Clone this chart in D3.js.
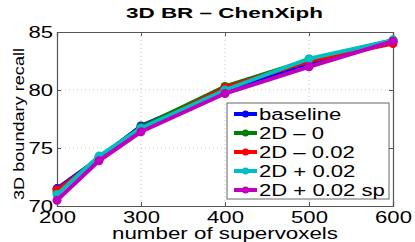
<!DOCTYPE html>
<html><head><meta charset="utf-8">
<script src="https://cdn.jsdelivr.net/npm/d3@7"></script>
<style>body{margin:0;background:#fff}svg{display:block}text{font-family:"Liberation Sans",Arial,sans-serif}</style>
</head><body><svg id="c" width="415" height="242"></svg>
<script>
const xValues = [200, 250, 300, 400, 500, 600];
const seriesNames = ["baseline", "2D \u2013 0", "2D \u2013 0.02", "2D + 0.02", "2D + 0.02 sp"];
const seriesColors = ["#0000ff", "#008000", "#ff0000", "#00bfbf", "#bf00bf"];
const baseline = [71.5, 74.1, 76.9, 80.0, 82.3, 84.2];
const d2_0 = [71.2, 74.2, 76.8, 80.3, 82.6, 84.3];
const d2_m002 = [71.4, 74.0, 76.6, 80.2, 82.5, 84.0];
const d2_p002 = [71.0, 74.3, 76.7, 80.0, 82.7, 84.3];
const d2_p002sp = [70.5, 73.9, 76.4, 79.7, 82.0, 84.2];
const seriesValues = [baseline, d2_0, d2_m002, d2_p002, d2_p002sp];
const xTicks = [200, 300, 400, 500, 600];
const yTicks = [70, 75, 80, 85];

const svg = d3.select("#c");
const L = 57, R = 393, T = 32, B = 206;
const x = d3.scaleLinear().domain([200, 600]).range([L, R]);
const y = d3.scaleLinear().domain([70, 85]).range([B, T]);
const FONT = '"Liberation Sans",Arial,sans-serif';

// grid
const g = svg.append("g");
g.selectAll(".gx").data(xTicks.slice(1, -1)).join("line")
  .attr("x1", d => x(d)).attr("x2", d => x(d)).attr("y1", T).attr("y2", B)
  .attr("stroke", "#c8c8c8").attr("stroke-width", 1).attr("stroke-dasharray", "1,3");
g.selectAll(".gy").data(yTicks.slice(1, -1)).join("line")
  .attr("y1", d => y(d)).attr("y2", d => y(d)).attr("x1", L).attr("x2", R)
  .attr("stroke", "#c8c8c8").attr("stroke-width", 1).attr("stroke-dasharray", "1,3");

// axes
const xa = svg.append("g").attr("transform", `translate(0,${B})`)
  .call(d3.axisBottom(x).tickValues(xTicks).tickSize(-4).tickPadding(6).tickFormat(d3.format("d")));
const ya = svg.append("g").attr("transform", `translate(${L},0)`)
  .call(d3.axisLeft(y).tickValues(yTicks).tickSize(-4).tickPadding(4).tickFormat(d3.format("d")));
const xt = svg.append("g").attr("transform", `translate(0,${T})`)
  .call(d3.axisTop(x).tickValues(xTicks).tickSize(-4).tickFormat(""));
const yr = svg.append("g").attr("transform", `translate(${R},0)`)
  .call(d3.axisRight(y).tickValues(yTicks).tickSize(-4).tickFormat(""));
[xa, ya, xt, yr].forEach(a => {
  a.select(".domain").attr("stroke", "#555").attr("stroke-width", 1.2);
  a.selectAll(".tick line").attr("stroke", "#555");
  a.selectAll("text").attr("font-size", 16).attr("fill", "#000")
    .style("font-family", FONT).classed("wide", true);
});
xa.selectAll("text").attr("dy", "0.71em");
ya.selectAll("text").attr("dy", "0.36em");

// lines
const line = d3.line().x((d, i) => x(xValues[i])).y(d => y(d));
seriesValues.forEach((vals, s) => {
  svg.append("path").datum(vals).attr("d", line).attr("fill", "none")
    .attr("stroke", seriesColors[s]).attr("stroke-width", 4).attr("stroke-linejoin", "round");
  svg.selectAll(null).data(vals).join("circle")
    .attr("cx", (d, i) => x(xValues[i])).attr("cy", d => y(d)).attr("r", 4.5)
    .attr("fill", seriesColors[s]);
});

// title & labels
svg.append("text").attr("x", 224.5).attr("y", 18).attr("text-anchor", "middle")
  .attr("font-size", 15).attr("font-weight", "bold").attr("data-len", 197).text("3D BR \u2013 ChenXiph");
svg.append("text").attr("x", 225).attr("y", 239).attr("text-anchor", "middle")
  .attr("font-size", 16).attr("data-len", 226).text("number of supervoxels");
svg.append("text").attr("transform", `translate(24,124) rotate(-90)`)
  .attr("text-anchor", "middle").attr("font-size", 15).attr("data-len", 152).text("3D boundary recall");

// legend
const lg = svg.append("g");
lg.append("rect").attr("x", 227).attr("y", 103).attr("width", 162).attr("height", 96)
  .attr("fill", "#fff").attr("stroke", "#666").attr("stroke-width", 1);
seriesNames.forEach((n, i) => {
  const yy = 114 + i * 19;
  lg.append("line").attr("x1", 234).attr("x2", 257).attr("y1", yy).attr("y2", yy)
    .attr("stroke", seriesColors[i]).attr("stroke-width", 4);
  lg.append("circle").attr("cx", 245.5).attr("cy", yy).attr("r", 3.5).attr("fill", seriesColors[i]);
  lg.append("text").attr("x", 259).attr("y", yy).attr("dy", "0.36em").attr("font-size", 16)
    .classed("wide", true).text(n);
});

// horizontally stretched glyphs, as in the reference
svg.selectAll("text").each(function () {
  const t = d3.select(this);
  let len = +t.attr("data-len");
  if (!len && t.classed("wide")) len = this.getComputedTextLength() * 1.38;
  if (len) t.attr("textLength", len).attr("lengthAdjust", "spacingAndGlyphs");
});
</script></body></html>
